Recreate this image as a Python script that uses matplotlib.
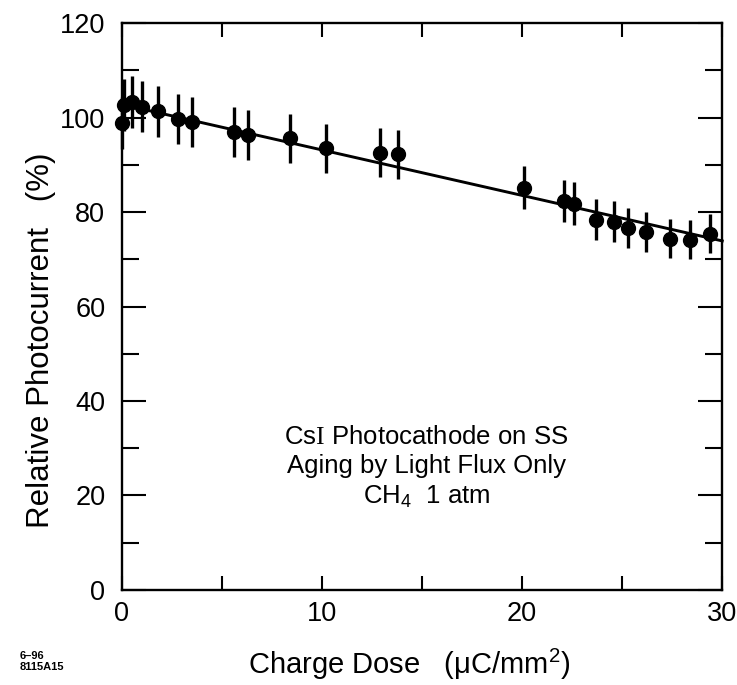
import matplotlib.pyplot as plt
from matplotlib.ticker import MultipleLocator

plt.rcParams['font.family'] = ['Liberation Sans', 'DejaVu Sans']
plt.rcParams['mathtext.fontset'] = 'custom'
plt.rcParams['mathtext.rm'] = 'Liberation Serif'
plt.rcParams['mathtext.sf'] = 'Liberation Sans'

# charge dose (uC/mm^2), relative photocurrent (%), error (%)
dose = [0.0, 0.1, 0.5, 1.0, 1.8, 2.8, 3.5, 5.6, 6.3, 8.4, 10.2,
        12.9, 13.8, 20.1, 22.1, 22.6, 23.7, 24.6, 25.3, 26.2, 27.4, 28.4, 29.4]
current = [98.8, 102.6, 103.4, 102.3, 101.4, 99.8, 99.1, 97.0, 96.3, 95.6, 93.5,
           92.6, 92.3, 85.2, 82.4, 81.8, 78.4, 78.0, 76.6, 75.8, 74.4, 74.2, 75.4]
err = [5.5, 5.5, 5.5, 5.4, 5.4, 5.3, 5.3, 5.3, 5.3, 5.2, 5.2,
       5.2, 5.2, 4.5, 4.5, 4.5, 4.4, 4.4, 4.3, 4.3, 4.2, 4.2, 4.1]

# straight-line fit drawn through the data
fit_x = [0.0, 30.0]
fit_y = [102.8, 73.9]

fig = plt.figure(figsize=(7.37, 6.85), dpi=100)
ax = fig.add_axes([0.1655, 0.139, 0.8145, 0.827])

ax.plot(fit_x, fit_y, color='black', lw=2.1, clip_on=False)
ax.errorbar(dose, current, yerr=err, fmt='o', color='black', ms=10,
            elinewidth=2.4, capsize=0, clip_on=False)

ax.set_xlim(0, 30)
ax.set_ylim(0, 120)
ax.xaxis.set_major_locator(MultipleLocator(10))
ax.xaxis.set_minor_locator(MultipleLocator(5))
ax.yaxis.set_major_locator(MultipleLocator(20))
ax.yaxis.set_minor_locator(MultipleLocator(10))
ax.tick_params(which='both', direction='in', top=True, right=True, width=1.5)
ax.tick_params(axis='x', which='both', length=10, pad=8, labelsize=19.5)
ax.tick_params(axis='y', which='major', length=17, pad=12, labelsize=19.5)
ax.tick_params(axis='y', which='minor', length=12)
for s in ax.spines.values():
    s.set_linewidth(1.7)

ax.set_xlabel('Charge Dose   (\u03bcC/mm$^\\mathsf{2}$)', fontsize=21, labelpad=11)
ax.xaxis.set_label_coords(0.478, -0.1)
ax.set_ylabel('Relative Photocurrent   (%)', fontsize=22.5)
ax.yaxis.set_label_coords(-0.11, 0.44)

ax.text(0.507, 0.216, 'Cs$\\mathrm{I}$ Photocathode on SS\nAging by Light Flux Only\nCH$_\\mathsf{4}$  1 atm',
        transform=ax.transAxes, ha='center', va='center', fontsize=18.5,
        linespacing=1.27)

fig.text(0.027, 0.034, '6\u201396\n8115A15', fontsize=8, fontweight='bold',
         ha='left', va='center', linespacing=1.1)

fig.savefig('out.png', dpi=100)
